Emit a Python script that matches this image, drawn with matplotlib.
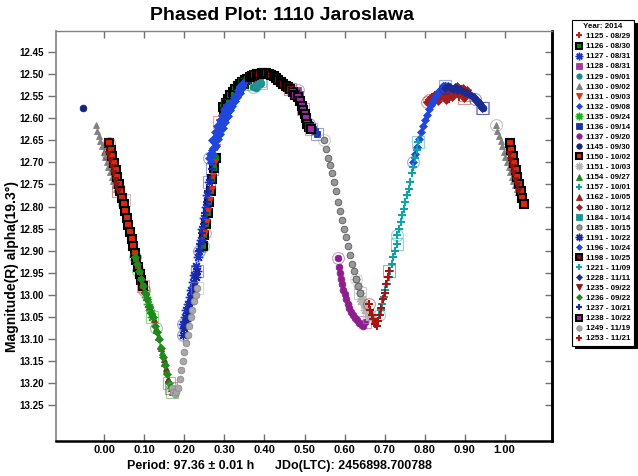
import matplotlib
matplotlib.use("Agg")
import matplotlib.pyplot as plt
import numpy as np

plt.rcParams['font.family'] = ['Liberation Sans', 'DejaVu Sans']
plt.rcParams['font.weight'] = 'bold'

# phase / reduced magnitude for every observing session
p1125 = [0.812, 0.818, 0.825, 0.831, 0.838, 0.844, 0.851, 0.857, 0.864, 0.870, 0.877, 0.883, 0.890, 0.896, 0.903,
         0.822, 0.835, 0.848, 0.861, 0.874, 0.887, 0.900]
m1125 = [12.558, 12.552, 12.548, 12.545, 12.541, 12.545, 12.539, 12.548, 12.536, 12.543, 12.537, 12.546, 12.534, 12.541, 12.538,
         12.562, 12.556, 12.553, 12.556, 12.550, 12.552, 12.548]

p1126 = [0.246, 0.250, 0.254, 0.258, 0.262, 0.266, 0.270, 0.274, 0.279, 0.297, 0.303, 0.309, 0.315,
         0.321, 0.327, 0.333, 0.339, 0.345, 0.351, 0.357, 0.300, 0.312, 0.324, 0.336, 0.348]
m1126 = [12.890, 12.865, 12.840, 12.815, 12.790, 12.765, 12.738, 12.712, 12.690, 12.574, 12.565, 12.556, 12.548,
         12.540, 12.533, 12.527, 12.522, 12.517, 12.514, 12.511, 12.585, 12.566, 12.548, 12.534, 12.522]

p1127 = [0.197, 0.201, 0.205, 0.209, 0.213, 0.217, 0.221, 0.225, 0.229, 0.233, 0.237, 0.241, 0.245, 0.249,
         0.253, 0.257, 0.261]
m1127 = [13.065, 13.050, 13.035, 13.020, 13.005, 12.990, 12.970, 12.955, 12.935, 12.915, 12.900, 12.875, 12.850,
         12.825, 12.800, 12.775, 12.745]

p1128 = [0.485, 0.488, 0.491, 0.494, 0.497]
m1128 = [12.535, 12.545, 12.556, 12.568, 12.580]

p1129 = [0.372, 0.376, 0.380, 0.384, 0.388, 0.392]
m1129 = [12.530, 12.527, 12.532, 12.525, 12.522, 12.520]

p1130 = [0.978, 0.982, 0.986, 0.990, 0.994, 0.998, 0.002, 0.006, 0.010, 0.014, 0.018, 0.022, 0.026,
         0.030, 0.034, 0.038, 0.042, 0.046, 0.048]
m1130 = [12.615, 12.628, 12.640, 12.652, 12.664, 12.676, 12.688, 12.700, 12.711, 12.722, 12.733, 12.743, 12.752,
         12.760, 12.767, 12.773, 12.778, 12.782, 12.785]

p1131 = [0.252, 0.256, 0.260, 0.264, 0.268, 0.272, 0.277, 0.282, 0.286]
m1131 = [12.860, 12.835, 12.810, 12.785, 12.760, 12.732, 12.700, 12.665, 12.608]

p1132 = [0.262, 0.265, 0.268, 0.271, 0.274, 0.277, 0.280, 0.283, 0.286, 0.289, 0.292, 0.295, 0.298, 0.301,
         0.304, 0.307, 0.310, 0.313, 0.316, 0.319, 0.322, 0.325, 0.328, 0.331, 0.334, 0.337, 0.340, 0.343,
         0.347, 0.350,
         0.266, 0.272, 0.278, 0.284, 0.290, 0.296, 0.302, 0.308, 0.314, 0.320, 0.326, 0.332, 0.338, 0.344,
         0.270, 0.276, 0.282, 0.288, 0.294, 0.300, 0.306]
m1132 = [12.690, 12.682, 12.672, 12.668, 12.655, 12.652, 12.640, 12.638, 12.628, 12.626, 12.615, 12.612, 12.603, 12.600,
         12.592, 12.588, 12.578, 12.576, 12.568, 12.564, 12.558, 12.553, 12.548, 12.545, 12.537, 12.535, 12.528, 12.524,
         12.520, 12.517,
         12.700, 12.680, 12.662, 12.648, 12.635, 12.622, 12.608, 12.595, 12.582, 12.572, 12.562, 12.552, 12.542, 12.532,
         12.650, 12.632, 12.618, 12.605, 12.592, 12.580, 12.570]

p1135 = [0.085, 0.090, 0.095, 0.100, 0.105, 0.110, 0.115, 0.120]
m1135 = [12.945, 12.960, 12.975, 12.990, 13.005, 13.020, 13.035, 13.050]

p1136 = [0.512, 0.517, 0.522, 0.527, 0.532]
m1136 = [12.612, 12.620, 12.625, 12.630, 12.636]

p1137 = [0.583, 0.585, 0.588, 0.591, 0.594, 0.597, 0.600, 0.604, 0.608, 0.612, 0.616, 0.620, 0.625, 0.630,
         0.635, 0.640, 0.645, 0.650]
m1137 = [12.916, 12.937, 12.950, 12.963, 12.976, 12.988, 12.998, 13.010, 13.020, 13.030, 13.038, 13.045, 13.052, 13.058,
         13.063, 13.067, 13.070, 13.062]

p1145 = [0.926, 0.930, 0.934, 0.938, 0.942, 0.947]
m1145 = [12.556, 12.560, 12.563, 12.567, 12.572, 12.578]

p1150 = [0.0125, 0.016, 0.020, 0.024, 0.028, 0.032, 0.036, 0.040, 0.044, 0.048, 0.052, 0.056, 0.060, 0.064,
         0.068, 0.072, 0.076, 0.080, 0.084, 0.088, 0.092, 0.096]
m1150 = [12.657, 12.671, 12.686, 12.702, 12.717, 12.733, 12.749, 12.764, 12.780, 12.795, 12.811, 12.827, 12.842, 12.858,
         12.873, 12.889, 12.905, 12.920, 12.936, 12.952, 12.967, 12.980]

p1151 = [0.628, 0.633, 0.638, 0.643, 0.648, 0.653, 0.658, 0.663, 0.668, 0.640, 0.650, 0.660]
m1151 = [12.965, 12.980, 12.995, 13.010, 13.020, 13.030, 13.040, 13.045, 13.050, 13.015, 13.035, 13.050]

p1154 = [0.130, 0.135, 0.140, 0.145, 0.150, 0.155, 0.160, 0.165, 0.170]
m1154 = [13.075, 13.095, 13.115, 13.130, 13.155, 13.170, 13.190, 13.205, 13.220]

p1157 = [0.686, 0.690, 0.694, 0.698, 0.702, 0.706, 0.710, 0.714, 0.718, 0.722, 0.726, 0.730]
m1157 = [13.045, 13.035, 13.020, 13.005, 12.990, 12.975, 12.960, 12.945, 12.930, 12.915, 12.900, 12.885]

p1162 = [0.100, 0.106, 0.112, 0.118, 0.124, 0.130, 0.136, 0.142, 0.148, 0.154, 0.160, 0.166]
m1162 = [12.990, 13.005, 13.025, 13.040, 13.055, 13.080, 13.095, 13.120, 13.145, 13.165, 13.190, 13.210]

p1180 = [0.806, 0.814, 0.822, 0.829, 0.836, 0.843, 0.850, 0.858, 0.866, 0.873, 0.880, 0.888, 0.895, 0.902, 0.906,
         0.818, 0.833, 0.854, 0.869, 0.884, 0.898]
m1180 = [12.563, 12.555, 12.550, 12.546, 12.552, 12.540, 12.544, 12.537, 12.542, 12.533, 12.528, 12.540, 12.532, 12.536, 12.536,
         12.565, 12.560, 12.558, 12.552, 12.545, 12.555]

p1184 = [0.378, 0.382, 0.386, 0.390]
m1184 = [12.525, 12.522, 12.518, 12.515]

p1185 = [0.548, 0.553, 0.558, 0.563, 0.568, 0.573, 0.578, 0.583, 0.588, 0.593, 0.598, 0.603, 0.608, 0.613,
         0.618, 0.623, 0.628, 0.633, 0.638]
m1185 = [12.650, 12.670, 12.690, 12.705, 12.725, 12.745, 12.765, 12.790, 12.810, 12.830, 12.850, 12.870, 12.890, 12.910,
         12.930, 12.945, 12.965, 12.980, 12.995]

p1191 = [0.196, 0.200, 0.204, 0.208, 0.212, 0.216, 0.220, 0.224, 0.228, 0.232]
m1191 = [13.090, 13.075, 13.060, 13.045, 13.030, 13.015, 12.995, 12.980, 12.960, 12.945]

p1196 = [0.770, 0.775, 0.780, 0.785, 0.790, 0.795, 0.800, 0.805, 0.810, 0.815, 0.820, 0.825, 0.830, 0.835,
         0.840, 0.845, 0.850]
m1196 = [12.700, 12.682, 12.665, 12.648, 12.632, 12.618, 12.605, 12.592, 12.580, 12.570, 12.560, 12.553, 12.545, 12.538,
         12.533, 12.528, 12.527]

p1198 = [0.363, 0.369, 0.375, 0.381, 0.387, 0.393, 0.399, 0.405, 0.411, 0.417, 0.423, 0.429, 0.435, 0.441,
         0.447, 0.453, 0.459, 0.465]
m1198 = [12.507, 12.504, 12.502, 12.500, 12.499, 12.498, 12.497, 12.498, 12.499, 12.502, 12.505, 12.509, 12.513, 12.518,
         12.522, 12.526, 12.530, 12.534]

p1221 = [0.732, 0.736, 0.740, 0.744, 0.748, 0.752, 0.756, 0.760, 0.764, 0.768, 0.772, 0.776, 0.780, 0.784]
m1221 = [12.865, 12.850, 12.835, 12.820, 12.805, 12.790, 12.775, 12.760, 12.745, 12.725, 12.710, 12.690, 12.672, 12.655]

p1228 = [0.852, 0.858, 0.864, 0.870, 0.876, 0.882, 0.888, 0.894, 0.900, 0.906, 0.912, 0.918, 0.924, 0.930,
         0.936, 0.941, 0.944]
m1228 = [12.532, 12.528, 12.530, 12.533, 12.530, 12.535, 12.534, 12.538, 12.540, 12.542, 12.546, 12.550, 12.553, 12.560,
         12.566, 12.572, 12.576]

p1235 = [0.010, 0.014, 0.018, 0.022, 0.026, 0.030, 0.034]
m1235 = [12.680, 12.695, 12.710, 12.725, 12.740, 12.752, 12.765]

p1236 = [0.077, 0.082, 0.087, 0.092, 0.097, 0.102, 0.107, 0.112, 0.117, 0.122, 0.127, 0.132, 0.137, 0.142,
         0.147, 0.152, 0.157, 0.162]
m1236 = [12.915, 12.930, 12.945, 12.965, 12.980, 12.995, 13.010, 13.025, 13.040, 13.050, 13.070, 13.085, 13.100, 13.120,
         13.140, 13.160, 13.180, 13.200]

p1237 = [0.236, 0.240, 0.244, 0.248, 0.252, 0.256, 0.260, 0.264, 0.268]
m1237 = [12.900, 12.885, 12.860, 12.840, 12.815, 12.790, 12.765, 12.740, 12.715]

p1238 = [0.471, 0.477, 0.483, 0.489, 0.493, 0.497, 0.500, 0.503, 0.506, 0.510, 0.515]
m1238 = [12.540, 12.547, 12.553, 12.562, 12.572, 12.581, 12.590, 12.600, 12.612, 12.620, 12.625]

p1249 = [0.168, 0.172, 0.176, 0.180, 0.184, 0.188, 0.192, 0.196, 0.200, 0.204, 0.208, 0.212, 0.216, 0.220,
         0.224, 0.228, 0.232]
m1249 = [13.210, 13.220, 13.225, 13.220, 13.210, 13.190, 13.170, 13.150, 13.130, 13.110, 13.090, 13.070, 13.050, 13.035,
         13.015, 13.000, 12.985]

p1253 = [0.660, 0.664, 0.668, 0.672, 0.676, 0.680, 0.684, 0.688, 0.692, 0.696, 0.700, 0.704, 0.708, 0.712]
m1253 = [13.020, 13.035, 13.045, 13.055, 13.065, 13.070, 13.060, 13.045, 13.030, 13.010, 12.995, 12.975, 12.960, 12.945]

x_ticks = [0.0, 0.1, 0.2, 0.3, 0.4, 0.5, 0.6, 0.7, 0.8, 0.9, 1.0]
y_ticks = [12.45, 12.50, 12.55, 12.60, 12.65, 12.70, 12.75, 12.80, 12.85, 12.90, 12.95, 13.00,
           13.05, 13.10, 13.15, 13.20, 13.25]

ASTER = (8, 2, 0)

# label, phases, mags, marker, face colour, edge colour
sessions = [
    ("1125 - 08/29", p1125, m1125, '+', '#c41a1a', '#c41a1a'),
    ("1126 - 08/30", p1126, m1126, 's', '#0a8a0a', 'black'),
    ("1127 - 08/31", p1127, m1127, ASTER, '#1c34c8', '#1c34c8'),
    ("1128 - 08/31", p1128, m1128, 's', '#a23ca2', '#a23ca2'),
    ("1129 - 09/01", p1129, m1129, 'o', '#1a8a8a', '#1a8a8a'),
    ("1130 - 09/02", p1130, m1130, '^', '#808080', '#808080'),
    ("1131 - 09/03", p1131, m1131, 'v', '#e0300c', '#e0300c'),
    ("1132 - 09/08", p1132, m1132, 'D', '#2046dc', '#2046dc'),
    ("1135 - 09/24", p1135, m1135, ASTER, '#1fb01f', '#1fb01f'),
    ("1136 - 09/14", p1136, m1136, 's', '#1a34a0', '#1a34a0'),
    ("1137 - 09/20", p1137, m1137, 'o', '#8e1e8e', '#8e1e8e'),
    ("1145 - 09/30", p1145, m1145, 'o', '#14247c', '#14247c'),
    ("1150 - 10/02", p1150, m1150, 's', '#d82a0a', 'black'),
    ("1151 - 10/03", p1151, m1151, ASTER, '#b4b4b4', '#b4b4b4'),
    ("1154 - 09/27", p1154, m1154, '^', '#1e861e', '#1e861e'),
    ("1157 - 10/01", p1157, m1157, '+', '#14a0a0', '#14a0a0'),
    ("1162 - 10/05", p1162, m1162, '^', '#922020', '#922020'),
    ("1180 - 10/12", p1180, m1180, 'D', '#a02020', '#a02020'),
    ("1184 - 10/14", p1184, m1184, 's', '#209494', '#209494'),
    ("1185 - 10/15", p1185, m1185, 'o', '#989898', '#5a5a5a'),
    ("1191 - 10/22", p1191, m1191, ASTER, '#1a28a0', '#1a28a0'),
    ("1196 - 10/24", p1196, m1196, 'D', '#2046e0', '#2046e0'),
    ("1198 - 10/25", p1198, m1198, 's', '#8c1000', 'black'),
    ("1221 - 11/09", p1221, m1221, '+', '#10a4a4', '#10a4a4'),
    ("1228 - 11/11", p1228, m1228, 'D', '#1a2a90', '#1a2a90'),
    ("1235 - 09/22", p1235, m1235, 'v', '#8e1414', '#8e1414'),
    ("1236 - 09/22", p1236, m1236, 'D', '#1e8a1e', '#1e8a1e'),
    ("1237 - 10/21", p1237, m1237, '+', '#1a2aa4', '#1a2aa4'),
    ("1238 - 10/22", p1238, m1238, 's', '#a22aa2', 'black'),
    ("1249 - 11/19", p1249, m1249, 'o', '#a8a8a8', '#8a8a8a'),
    ("1253 - 11/21", p1253, m1253, '+', '#a81410', '#a81410'),
]


def wrapped(p, m):
    # repeat the ends of the cycle on the other side of the plot
    p = np.asarray(p)
    m = np.asarray(m)
    lo = p < 0.05
    hi = p > 0.945
    return (np.concatenate([p, p[lo] + 1.0, p[hi] - 1.0]),
            np.concatenate([m, m[lo], m[hi]]))


fig = plt.figure(figsize=(6.38, 4.76), dpi=100)
ax = fig.add_axes([56 / 638, 35 / 476, 496 / 638, 410 / 476])

handles = []
for label, p, m, mk, fc, ec in sessions:
    x, y = wrapped(p, m)
    if mk == '+':
        kw = dict(color=fc, markersize=6.2, markeredgewidth=1.5)
    elif mk == ASTER:
        kw = dict(color=fc, markersize=6.8, markeredgewidth=1.0)
    elif mk == 'D':
        kw = dict(markerfacecolor=fc, markeredgecolor=ec, markersize=3.8, markeredgewidth=0.5)
    elif mk == 's' and ec == 'black':
        kw = dict(markerfacecolor=fc, markeredgecolor=ec, markersize=5.2, markeredgewidth=1.5)
    else:
        kw = dict(markerfacecolor=fc, markeredgecolor=ec, markersize=4.8, markeredgewidth=0.6)
    h, = ax.plot(x, y, linestyle='none', marker=mk, label=label, **kw)
    handles.append(h)
    # first and last point of the night
    ax.plot(p[0], m[0], linestyle='none', marker='o', markersize=8.5, markerfacecolor='none',
            markeredgecolor=fc, markeredgewidth=0.8, alpha=0.45)
    ax.plot(p[-1], m[-1], linestyle='none', marker='s', markersize=8.5, markerfacecolor='none',
            markeredgecolor=fc, markeredgewidth=0.8, alpha=0.45)

ax.set_xlim(-0.121, 1.1185)
ax.set_ylim(13.331, 12.4025)
ax.set_xticks(x_ticks)
ax.set_xticklabels(['%.2f' % t for t in x_ticks])
ax.set_yticks(y_ticks)
ax.set_yticklabels(['%.2f' % t for t in y_ticks])
ax.tick_params(axis='x', direction='in', top=True, bottom=True, length=5, width=1,
               color='#707070', labelsize=8, pad=3)
ax.tick_params(axis='y', direction='out', left=True, right=False, length=6, width=1,
               color='#707070', labelsize=7, pad=3)
for lab in ax.get_xticklabels() + ax.get_yticklabels():
    lab.set_fontweight('bold')

right = ax.secondary_yaxis('right')
right.set_yticks(y_ticks)
right.set_yticklabels([])
right.tick_params(direction='in', length=5, width=1, color='#707070')
right.spines['right'].set_linewidth(1.8)
right.spines['right'].set_color('black')

ax.spines['left'].set_color('#808080')
ax.spines['top'].set_color('#808080')
ax.spines['left'].set_linewidth(1.2)
ax.spines['top'].set_linewidth(1.0)
ax.spines['bottom'].set_linewidth(1.8)
ax.spines['right'].set_linewidth(1.8)

fig.text(282 / 638, 1 - 15 / 476, "Phased Plot: 1110 Jaroslawa", ha='center', va='center',
         fontsize=14, fontweight='bold')
fig.text(12 / 638, 1 - 267 / 476, "Magnitude(R) alpha(19.3°)", rotation=90, ha='center',
         va='center', fontsize=10, fontweight='bold')
fig.text(127 / 638, 1 - 466 / 476, "Period: 97.36 ± 0.01 h", ha='left', va='center',
         fontsize=9, fontweight='bold')
fig.text(275 / 638, 1 - 466 / 476, "JDo(LTC): 2456898.700788", ha='left', va='center',
         fontsize=9, fontweight='bold')

leg = fig.legend(handles=handles, loc='upper left', bbox_to_anchor=(572 / 638, 1 - 20 / 476),
                 title="Year: 2014", fontsize=5.7, title_fontsize=5.7, frameon=True,
                 fancybox=False, shadow={'color': 'black', 'alpha': 1.0}, edgecolor='black',
                 borderpad=0.4, labelspacing=0.32, handlelength=1.0, handletextpad=0.4,
                 borderaxespad=0, markerscale=0.8)
leg.get_frame().set_linewidth(0.8)
leg.get_title().set_fontweight('bold')
for t in leg.get_texts():
    t.set_fontweight('bold')

fig.savefig("out.png", dpi=100)
